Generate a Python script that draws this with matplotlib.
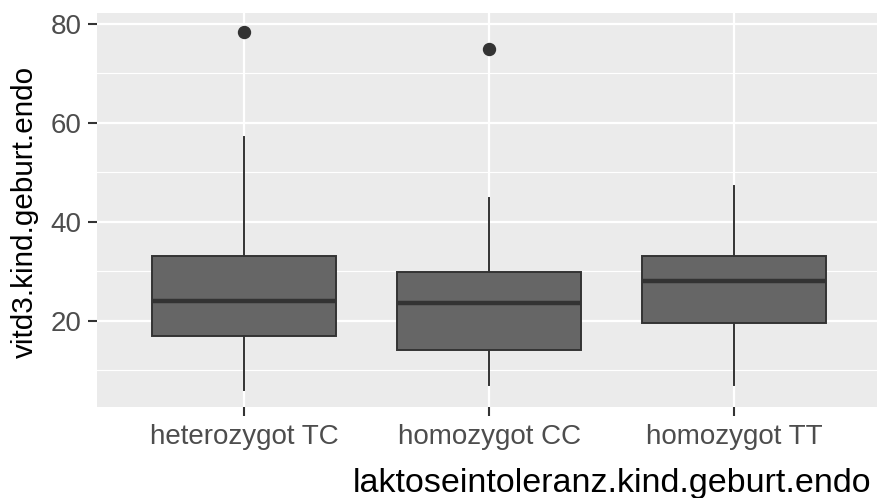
import matplotlib
matplotlib.use("Agg")
import matplotlib.pyplot as plt

# vitamin D3 at birth by lactose intolerance genotype
groups = ["heterozygot TC", "homozygot CC", "homozygot TT"]
q1 = [17.0, 14.1, 19.5]
med = [24.1, 23.7, 28.1]
q3 = [33.1, 29.8, 33.1]
whis_lo = [6.1, 7.1, 7.1]
whis_hi = [57.2, 44.9, 47.3]
outliers = [[78.3], [75.0], []]

plt.rcParams['font.family'] = ['Liberation Sans', 'DejaVu Sans']

fig = plt.figure(figsize=(8.77, 4.98), dpi=100)
W, H = 877, 498
left, right, top, bottom = 97.2, 1126.0, 13.0, 406.7
ax = fig.add_axes([left / W, (H - bottom) / H, (right - left) / W, (bottom - top) / H])
ax.set_facecolor('#EBEBEB')
for s in ax.spines.values():
    s.set_visible(False)

stats = []
for i in range(len(groups)):
    stats.append(dict(med=med[i], q1=q1[i], q3=q3[i], whislo=whis_lo[i],
                      whishi=whis_hi[i], fliers=outliers[i], label=groups[i]))

pos = list(range(1, len(groups) + 1))
ax.bxp(stats, positions=pos, widths=0.75, showcaps=False, patch_artist=True,
       boxprops=dict(facecolor='#666666', edgecolor='#333333', linewidth=1.4),
       whiskerprops=dict(color='#333333', linewidth=1.4),
       medianprops=dict(color='#333333', linewidth=3.2, solid_capstyle='butt'),
       flierprops=dict(marker='o', markersize=8.6, markerfacecolor='#333333',
                       markeredgecolor='#333333'),
       zorder=3)

ax.set_xlim(0.4, 4.6)
ax.set_ylim(2.65, 82.2)
ax.set_yticks([20, 40, 60, 80])
ax.set_yticks([10, 30, 50, 70], minor=True)
ax.set_xticks(pos)
ax.set_xticklabels(groups)

ax.grid(which='major', color='white', linewidth=1.6, zorder=0)
ax.grid(which='minor', axis='y', color='white', linewidth=0.8, zorder=0)
ax.set_axisbelow(True)

ax.tick_params(axis='both', which='major', length=6.3, width=1.5, color='#333333',
               labelsize=20, labelcolor='#4D4D4D')
ax.tick_params(axis='x', pad=6)
ax.tick_params(axis='y', pad=5)
ax.tick_params(which='minor', length=0)

ax.set_xlabel("laktoseintoleranz.kind.geburt.endo", fontsize=24.5, color='black', va='baseline')
ax.xaxis.set_label_coords(0.5, -(492 - bottom) / (bottom - top))
ax.set_ylabel("vitd3.kind.geburt.endo", fontsize=21.3, color='black', va='center')
ax.yaxis.set_label_coords((25 - left) / (right - left), 0.495)

fig.savefig("out.png", dpi=100)
